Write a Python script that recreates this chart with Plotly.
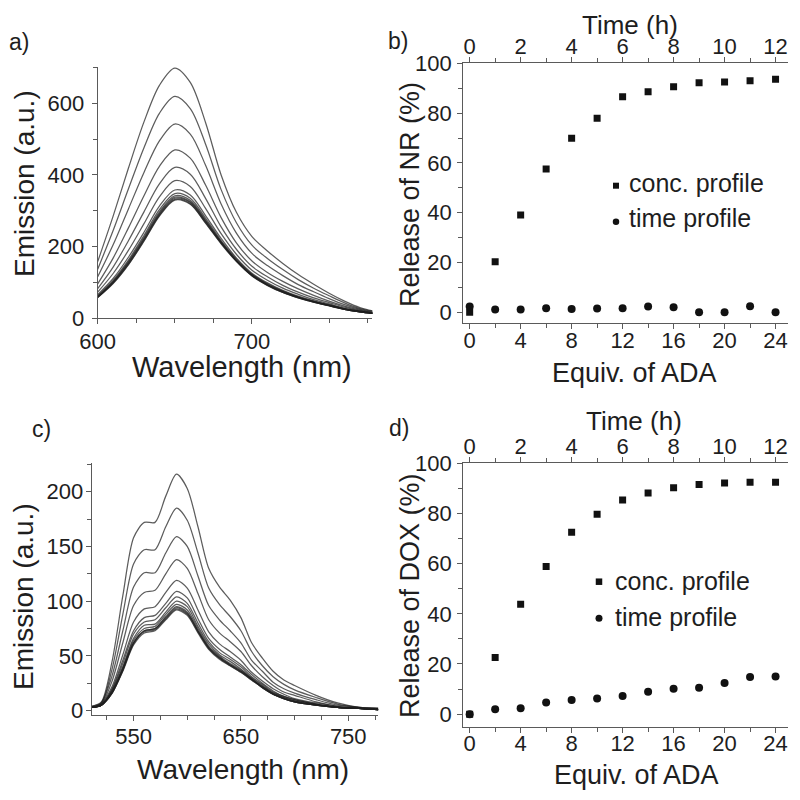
import plotly.graph_objects as go

# ---------------- data ----------------
# Panel a: Nile Red emission spectra (one curve per ADA equivalent)
wl_nr = [600, 610, 620, 630, 640, 650, 660, 670, 680, 690, 700, 710, 720, 730, 740, 750, 760, 770, 780]
nr_00 = [158, 285, 420, 548, 650, 698, 658, 545, 400, 295, 228, 188, 153, 122, 95, 70, 48, 30, 19]
nr_02 = [137, 245, 362, 476, 572, 619, 585, 485, 359, 266, 204, 167, 136, 108, 84, 63, 43, 27, 18]
nr_04 = [116, 205, 306, 407, 495, 542, 514, 426, 319, 237, 181, 147, 119, 94, 74, 55, 38, 25, 16]
nr_06 = [96, 168, 253, 342, 424, 470, 447, 371, 281, 210, 160, 128, 103, 82, 64, 48, 34, 23, 15]
nr_08 = [83, 143, 217, 297, 375, 421, 402, 334, 255, 192, 145, 116, 92, 73, 57, 44, 31, 21, 14]
nr_10 = [73, 125, 190, 264, 339, 384, 368, 306, 236, 178, 134, 106, 84, 67, 52, 40, 28, 20, 14]
nr_12 = [66, 111, 171, 240, 313, 358, 344, 286, 223, 168, 126, 99, 78, 62, 49, 38, 27, 19, 13]
nr_14 = [63, 106, 163, 231, 303, 348, 335, 279, 217, 165, 123, 97, 76, 60, 47, 37, 26, 19, 13]
nr_16 = [61, 103, 159, 226, 297, 342, 329, 274, 214, 162, 122, 95, 75, 59, 47, 36, 26, 18, 13]
nr_18 = [60, 101, 156, 222, 293, 338, 325, 271, 212, 161, 120, 94, 74, 58, 46, 36, 25, 18, 13]
nr_20 = [59, 100, 154, 220, 290, 335, 323, 269, 211, 160, 120, 93, 73, 58, 46, 35, 25, 18, 13]
nr_22 = [58, 98, 151, 217, 287, 332, 320, 266, 209, 159, 119, 92, 72, 57, 45, 35, 25, 18, 13]
nr_24 = [58, 97, 150, 215, 285, 330, 318, 265, 208, 158, 118, 92, 72, 57, 45, 35, 25, 18, 13]

# Panel c: DOX emission spectra
wl_dox = [511, 520, 530, 540, 550, 560, 570, 580, 590, 600, 610, 620, 630, 640, 650, 660, 670, 680, 690, 700, 720, 740, 760, 778]
dox_00 = [4, 8, 45, 105, 158, 172, 172, 196, 216, 203, 168, 130, 113, 101, 85, 62, 48, 36, 28, 23, 14, 7, 3, 2]
dox_02 = [4, 7, 38, 88, 134, 147, 147, 168, 185, 174, 144, 112, 97, 86, 73, 54, 41, 31, 24, 19, 12, 6, 3, 2]
dox_04 = [3, 7, 32, 73, 113, 126, 126, 144, 159, 150, 123, 96, 83, 73, 62, 46, 36, 26, 20, 16, 10, 5, 3, 2]
dox_06 = [3, 6, 27, 62, 96, 108, 110, 125, 138, 130, 107, 83, 71, 63, 54, 41, 31, 23, 17, 14, 8, 4, 2, 1]
dox_08 = [3, 6, 22, 51, 81, 93, 95, 108, 119, 112, 92, 72, 61, 54, 46, 35, 27, 20, 15, 11, 7, 4, 2, 1]
dox_10 = [3, 5, 20, 46, 73, 85, 87, 98, 109, 103, 84, 66, 56, 49, 42, 33, 25, 18, 13, 10, 6, 3, 2, 1]
dox_12 = [3, 5, 19, 43, 70, 81, 83, 94, 104, 98, 80, 63, 53, 47, 40, 31, 24, 17, 13, 10, 6, 3, 2, 1]
dox_14 = [3, 5, 18, 40, 66, 78, 79, 90, 100, 95, 77, 61, 51, 45, 38, 30, 23, 16, 12, 9, 6, 3, 2, 1]
dox_16 = [3, 5, 17, 39, 64, 75, 77, 88, 97, 92, 75, 59, 50, 43, 37, 29, 22, 16, 12, 9, 5, 3, 2, 1]
dox_18 = [3, 5, 17, 38, 62, 73, 75, 86, 95, 90, 73, 58, 49, 42, 36, 29, 22, 15, 11, 8, 5, 3, 2, 1]
dox_20 = [3, 5, 16, 37, 62, 73, 75, 85, 94, 89, 73, 57, 48, 42, 36, 29, 21, 15, 11, 8, 5, 3, 2, 1]
dox_22 = [3, 5, 16, 37, 61, 72, 74, 84, 93, 88, 72, 57, 48, 41, 35, 28, 21, 15, 11, 8, 5, 3, 2, 1]
dox_24 = [3, 5, 16, 36, 60, 71, 73, 83, 92, 87, 71, 56, 47, 41, 35, 28, 21, 15, 11, 8, 5, 3, 2, 1]

# Panels b and d: release profiles
equiv_ada = [0, 2, 4, 6, 8, 10, 12, 14, 16, 18, 20, 22, 24]
time_h = [0, 1, 2, 3, 4, 5, 6, 7, 8, 9, 10, 11, 12]
nr_conc = [0, 20.3, 39.1, 57.6, 69.9, 77.9, 86.6, 88.6, 90.6, 92.2, 92.5, 93.0, 93.6]
nr_time = [2.3, 1.1, 1.1, 1.6, 1.3, 1.5, 1.6, 2.3, 2.0, 0.0, 0.0, 2.4, 0.0]
dox_conc = [0, 22.6, 43.8, 58.9, 72.5, 79.7, 85.4, 88.2, 90.3, 91.5, 92.1, 92.4, 92.4]
dox_time = [0, 2.0, 2.4, 4.6, 5.6, 6.2, 7.2, 8.9, 10.1, 10.5, 12.4, 14.8, 15.0]

nr_spectra = [nr_00, nr_02, nr_04, nr_06, nr_08, nr_10, nr_12, nr_14, nr_16, nr_18, nr_20, nr_22, nr_24]
dox_spectra = [dox_00, dox_02, dox_04, dox_06, dox_08, dox_10, dox_12, dox_14, dox_16, dox_18, dox_20, dox_22, dox_24]

# ---------------- style ----------------
FONT = "Liberation Sans, Arial, sans-serif"
TXT = "#1e1e1e"
AX = "#5a5a5a"
LINE = "rgba(30,30,30,0.72)"
TICKF = 22
TITLEF = 27
W = H = 800
OFF = 8  # the html page body margin


def px(x):
    return (x - OFF) / W


def py(y):
    return 1 - (y - OFF) / H


fig = go.Figure()

for s in nr_spectra:
    fig.add_trace(go.Scatter(x=wl_nr, y=s, mode="lines", xaxis="x", yaxis="y",
                             line=dict(color=LINE, width=1.25, shape="spline", smoothing=0.9),
                             showlegend=False, hoverinfo="skip"))
for s in dox_spectra:
    fig.add_trace(go.Scatter(x=wl_dox, y=s, mode="lines", xaxis="x4", yaxis="y4",
                             line=dict(color=LINE, width=1.25, shape="spline", smoothing=0.8),
                             showlegend=False, hoverinfo="skip"))

MK = "#111111"
fig.add_trace(go.Scatter(x=equiv_ada, y=nr_conc, mode="markers", xaxis="x2", yaxis="y2",
                         marker=dict(symbol="square", size=7, color=MK), name="conc. profile", showlegend=False))
fig.add_trace(go.Scatter(x=time_h, y=nr_time, mode="markers", xaxis="x3", yaxis="y2",
                         marker=dict(symbol="circle", size=8, color=MK), name="time profile", showlegend=False))
fig.add_trace(go.Scatter(x=equiv_ada, y=dox_conc, mode="markers", xaxis="x5", yaxis="y5",
                         marker=dict(symbol="square", size=7, color=MK), name="conc. profile", showlegend=False))
fig.add_trace(go.Scatter(x=time_h, y=dox_time, mode="markers", xaxis="x6", yaxis="y5",
                         marker=dict(symbol="circle", size=8, color=MK), name="time profile", showlegend=False))


def axis(domain, rng, anchor, side=None, dtick=None, tick0=None, tickvals=None,
         minor_dtick=None, standoff=None, overlaying=None):
    d = dict(domain=domain, range=rng, anchor=anchor, showgrid=False, zeroline=False,
             automargin=False,
             showline=True, linecolor=AX, linewidth=1.3, ticks="outside", ticklen=5,
             tickwidth=1.2, tickcolor=AX, tickfont=dict(family=FONT, size=TICKF, color=TXT))
    if side:
        d["side"] = side
    if dtick is not None:
        d["dtick"] = dtick
    if tick0 is not None:
        d["tick0"] = tick0
    if tickvals is not None:
        d["tickmode"] = "array"
        d["tickvals"] = tickvals
    if minor_dtick is not None:
        d["minor"] = dict(dtick=minor_dtick, ticks="outside", ticklen=4, tickwidth=1.1,
                          tickcolor=AX, showgrid=False)
    if standoff is not None:
        d["ticklabelstandoff"] = standoff
    if overlaying:
        d["overlaying"] = overlaying
    return d


xa = [97.7, 372.3]
ya = [66.7, 318.3]
xb = [463.3, 788.3]
yb = [63.3, 323.3]
xc = [91.7, 378.3]
yc = [463.3, 715.0]
yd = [463.3, 726.7]

fig.update_layout(
    width=W, height=H, margin=dict(l=0, r=0, t=0, b=0, pad=0, autoexpand=False),
    paper_bgcolor="white", plot_bgcolor="white",
    font=dict(family=FONT, color=TXT),
    xaxis=axis([px(xa[0]), px(xa[1])], [600, 778], "y", tickvals=[600, 700],
               minor_dtick=25, standoff=-2),
    yaxis=axis([py(ya[1]), py(ya[0])], [0, 702], "x", dtick=200, tick0=0,
               minor_dtick=100, standoff=3),
    xaxis2=axis([px(xb[0]), px(xb[1])], [-0.5, 25], "y2", dtick=4, tick0=0,
                minor_dtick=2, standoff=-8),
    xaxis3=axis([px(xb[0]), px(xb[1])], [-0.25, 12.5], "y2", side="top", dtick=2, tick0=0,
                minor_dtick=1, standoff=-6, overlaying="x2"),
    yaxis2=axis([py(yb[1]), py(yb[0])], [-4.4, 100], "x2", dtick=20, tick0=0,
                minor_dtick=10, standoff=1),
    xaxis4=axis([px(xc[0]), px(xc[1])], [511, 778], "y4", dtick=100, tick0=550,
                minor_dtick=25, standoff=-4),
    yaxis4=axis([py(yc[1]), py(yc[0])], [-4, 226], "x4", dtick=50, tick0=0,
                minor_dtick=25, standoff=-2),
    xaxis5=axis([px(xb[0]), px(xb[1])], [-0.5, 25], "y5", dtick=4, tick0=0,
                minor_dtick=2, standoff=-8),
    xaxis6=axis([px(xb[0]), px(xb[1])], [-0.25, 12.5], "y5", side="top", dtick=2, tick0=0,
                minor_dtick=1, standoff=-6, overlaying="x5"),
    yaxis5=axis([py(yd[1]), py(yd[0])], [-5, 100], "x5", dtick=20, tick0=0,
                minor_dtick=10, standoff=1),
)

ann = []


def text(x, y, s, size, angle=0, xanchor="center", yanchor="middle"):
    ann.append(dict(x=px(x), y=py(y), xref="paper", yref="paper", text=s, showarrow=False,
                    textangle=angle, xanchor=xanchor, yanchor=yanchor,
                    font=dict(family=FONT, size=size, color=TXT)))


# panel labels
text(19, 42, "a)", 23)
text(398, 41, "b)", 23)
text(41, 429, "c)", 23)
text(399, 428, "d)", 23)
# axis titles
text(25, 184, "Emission (a.u.)", 28, angle=-90)
text(242, 367, "Wavelength (nm)", 29)
text(410, 194, "Release of NR (%)", TITLEF, angle=-90)
text(634, 373, "Equiv. of ADA", TITLEF)
text(630, 25, "Time (h)", 26)
text(23, 597, "Emission (a.u.)", 28, angle=-90)
text(243, 769, "Wavelength (nm)", 28)
text(410, 595, "Release of DOX (%)", TITLEF, angle=-90)
text(636, 775, "Equiv. of ADA", TITLEF)
text(634, 421, "Time (h)", 26)
# in-plot legends
LEGF = 25
text(626.7, 183, "conc. profile", LEGF, xanchor="left")
text(626.7, 218, "time profile", LEGF, xanchor="left")
text(613.3, 581, "conc. profile", LEGF, xanchor="left")
text(613.3, 617, "time profile", LEGF, xanchor="left")

shapes = []


def sq(cx, cy, s):
    shapes.append(dict(type="rect", xref="paper", yref="paper",
                       x0=px(cx - s / 2), x1=px(cx + s / 2), y0=py(cy + s / 2), y1=py(cy - s / 2),
                       fillcolor=MK, line=dict(width=0)))


def circ(cx, cy, s):
    shapes.append(dict(type="circle", xref="paper", yref="paper",
                       x0=px(cx - s / 2), x1=px(cx + s / 2), y0=py(cy + s / 2), y1=py(cy - s / 2),
                       fillcolor=MK, line=dict(width=0)))


sq(616, 185.7, 6)
circ(616, 221.7, 6.5)
sq(599, 581.7, 6.5)
circ(599, 618.3, 7)

fig.update_layout(annotations=ann, shapes=shapes)

fig.write_html("out.html")
